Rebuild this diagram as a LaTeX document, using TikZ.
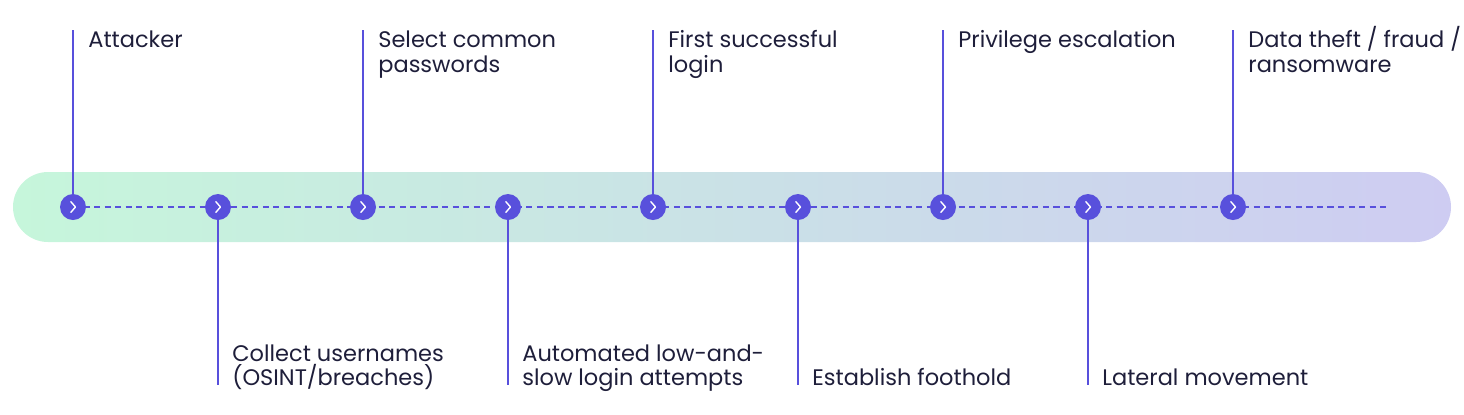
\documentclass[tikz,border=0pt]{standalone}
\usepackage{fontspec}
\setmainfont{Poppins}
\usetikzlibrary{positioning}
\definecolor{bandleft}{RGB}{198,246,219}
\definecolor{bandright}{RGB}{206,204,242}
\definecolor{stepcolor}{RGB}{88,80,220}
\definecolor{labelcolor}{RGB}{30,30,58}
\newcommand{\tstrut}{\rule{0pt}{13pt}}
\tikzset{
marker/.style={
  circle,
  fill=stepcolor,
  minimum size=0.52cm,
  inner sep=0pt,
  path picture={
    \draw[white, line width=0.8pt, line cap=round, line join=round]
      ([xshift=-1.2pt,yshift=3pt]path picture bounding box.center)
      -- ++(2.6pt,-3pt) -- ++(-2.6pt,-3pt);
  }
},
stem/.style={
  draw=stepcolor,
  line width=1.1pt
},
track/.style={
  draw=stepcolor,
  line width=1.1pt,
  dash pattern=on 3.5pt off 2.5pt
},
labeltext/.style={
  inner sep=0pt,
  align=left,
  font=\fontsize{12.8}{14.2}\selectfont,
  text=labelcolor
},
toplabel/.style={
  labeltext,
  anchor=north west
},
botlabel/.style={
  labeltext,
  anchor=base west
}
}
\begin{document}
\begin{tikzpicture}[x=0.02cm, y=-0.02cm]
    \useasboundingbox (0,0) rectangle (1464,414);
    % Band behind the timeline
    \shade[left color=bandleft, right color=bandright, rounded corners=0.7cm]
      (13,172) rectangle (1451,242);

    % Track
    \coordinate (trackend) at (1390,207);
    \draw[track] (73,207) -- (trackend);

    % Steps
    \node[marker] (m1) at (73,207) {};
    \node[marker] (m2) at (218,207) {};
    \node[marker] (m3) at (363,207) {};
    \node[marker] (m4) at (508,207) {};
    \node[marker] (m5) at (653,207) {};
    \node[marker] (m6) at (798,207) {};
    \node[marker] (m7) at (943,207) {};
    \node[marker] (m8) at (1088,207) {};
    \node[marker] (m9) at (1233,207) {};

    % Stems up
    \foreach \i in {1,3,5,7,9} {
      \coordinate (t\i) at ([yshift=3.54cm]m\i.center);
      \draw[stem] (m\i) -- (t\i);
    }
    % Stems down
    \foreach \i in {2,4,6,8} {
      \coordinate (b\i) at ([yshift=-3.56cm]m\i.center);
      \draw[stem] (m\i) -- (b\i);
    }

    % Labels above
    \node[toplabel] (l1) at ([xshift=0.3cm,yshift=0.12cm]t1) {\tstrut Attacker};
    \node[toplabel] (l3) at ([xshift=0.3cm,yshift=0.12cm]t3) {\tstrut Select common\\passwords};
    \node[toplabel] (l5) at ([xshift=0.3cm,yshift=0.12cm]t5) {\tstrut First successful\\login};
    \node[toplabel] (l7) at ([xshift=0.3cm,yshift=0.12cm]t7) {\tstrut Privilege escalation};
    \node[toplabel] (l9) at ([xshift=0.3cm,yshift=0.12cm]t9) {\tstrut Data theft / fraud /\\ransomware};

    % Labels below
    \node[botlabel] (l2) at ([xshift=0.28cm,yshift=-0.02cm]b2) {Collect usernames\\(OSINT/breaches)};
    \node[botlabel] (l4) at ([xshift=0.28cm,yshift=-0.02cm]b4) {Automated low-and-\\slow login attempts};
    \node[botlabel] (l6) at ([xshift=0.28cm,yshift=-0.02cm]b6) {Establish foothold};
    \node[botlabel] (l8) at ([xshift=0.28cm,yshift=-0.02cm]b8) {Lateral movement};
\end{tikzpicture}
\end{document}
